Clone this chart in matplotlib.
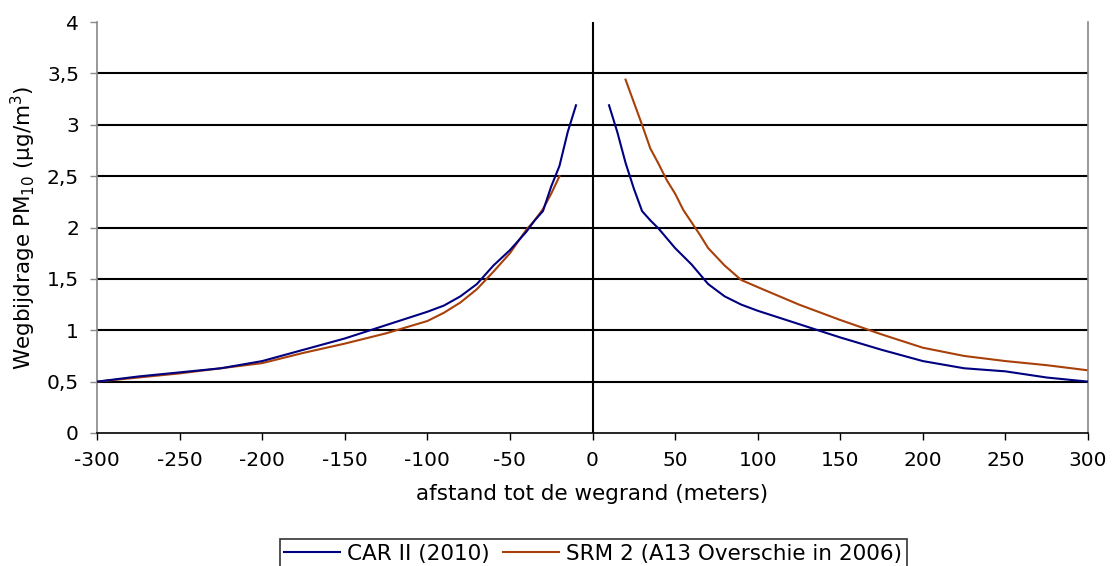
import numpy as np
import matplotlib
matplotlib.use("Agg")
import matplotlib.pyplot as plt

# CAR II (2010)
car_left_x = [-300, -275, -250, -225, -200, -175, -150, -125, -100, -90, -80, -70, -60, -50, -40, -35, -30, -25, -20, -15, -10]
car_left_y = [0.50, 0.55, 0.59, 0.63, 0.70, 0.81, 0.92, 1.05, 1.18, 1.24, 1.33, 1.45, 1.63, 1.78, 1.96, 2.07, 2.16, 2.40, 2.60, 2.93, 3.19]
car_right_x = [10, 15, 20, 25, 30, 35, 40, 50, 60, 70, 80, 90, 100, 125, 150, 175, 200, 225, 250, 275, 300]
car_right_y = [3.19, 2.93, 2.63, 2.38, 2.16, 2.07, 1.99, 1.80, 1.64, 1.45, 1.33, 1.25, 1.19, 1.06, 0.93, 0.81, 0.70, 0.63, 0.60, 0.54, 0.50]

# SRM 2 (A13 Overschie in 2006)
srm_left_x = [-300, -275, -250, -225, -200, -175, -150, -125, -100, -90, -80, -70, -60, -50, -40, -35, -30, -25, -20]
srm_left_y = [0.50, 0.54, 0.58, 0.63, 0.68, 0.78, 0.87, 0.97, 1.09, 1.17, 1.27, 1.40, 1.57, 1.75, 1.98, 2.07, 2.18, 2.33, 2.50]
srm_right_x = [20, 25, 30, 35, 40, 45, 50, 55, 60, 65, 70, 80, 90, 100, 125, 150, 175, 200, 225, 250, 275, 300]
srm_right_y = [3.44, 3.22, 3.00, 2.77, 2.62, 2.46, 2.33, 2.17, 2.05, 1.93, 1.80, 1.63, 1.49, 1.42, 1.25, 1.10, 0.96, 0.83, 0.75, 0.70, 0.66, 0.61]

x_ticks = [-300, -250, -200, -150, -100, -50, 0, 50, 100, 150, 200, 250, 300]
y_ticks = [0, 0.5, 1, 1.5, 2, 2.5, 3, 3.5, 4]
y_tick_labels = ["0", "0,5", "1", "1,5", "2", "2,5", "3", "3,5", "4"]

plt.rcParams['font.family'] = ['DejaVu Sans']
plt.rcParams['mathtext.fontset'] = 'dejavusans'

fig = plt.figure(figsize=(11.15, 5.66), dpi=100)
ax = fig.add_axes([0.087, 0.235, 0.8888, 0.726])

blue = '#000080'
orange = '#A8400A'

for y in [0.5, 1, 1.5, 2, 2.5, 3, 3.5]:
    ax.axhline(y, color='black', lw=1.5, zorder=1)
ax.axvline(0, color='black', lw=1.5, zorder=1)

ax.plot(car_left_x, car_left_y, color=blue, lw=1.5, label='CAR II (2010)', zorder=3)
ax.plot(car_right_x, car_right_y, color=blue, lw=1.5, zorder=3)
ax.plot(srm_left_x, srm_left_y, color=orange, lw=1.5, label='SRM 2 (A13 Overschie in 2006)', zorder=2)
ax.plot(srm_right_x, srm_right_y, color=orange, lw=1.5, zorder=2)

ax.set_xlim(-300, 300)
ax.set_ylim(0, 4)
ax.set_xticks(x_ticks)
ax.set_xticklabels([str(v) for v in x_ticks])
ax.set_yticks(y_ticks)
ax.set_yticklabels(y_tick_labels)
ax.tick_params(axis='both', labelsize=14.5, direction='out', length=5, width=1)
ax.tick_params(axis='y', colors='#888888', labelcolor='black', pad=8)
ax.tick_params(axis='x', colors='black', pad=8)

ax.spines['top'].set_visible(False)
ax.spines['left'].set_color('#888888')
ax.spines['right'].set_color('#888888')
ax.spines['bottom'].set_color('black')
for s in ['left', 'right', 'bottom']:
    ax.spines[s].set_linewidth(1.2)

ax.set_xlabel('afstand tot de wegrand (meters)', fontsize=15.5, labelpad=10)
ax.set_ylabel('Wegbijdrage PM$_{10}$ (µg/m$^{3}$)', fontsize=15.5, labelpad=6)

leg = fig.legend(loc='center', bbox_to_anchor=(0.532, 0.022), ncol=2, fontsize=15.5,
                 frameon=True, fancybox=False, edgecolor='black', handlelength=2.6,
                 handletextpad=0.35, columnspacing=0.6, borderpad=0.2)
leg.get_frame().set_linewidth(1.2)

fig.savefig('out.png', dpi=100)
